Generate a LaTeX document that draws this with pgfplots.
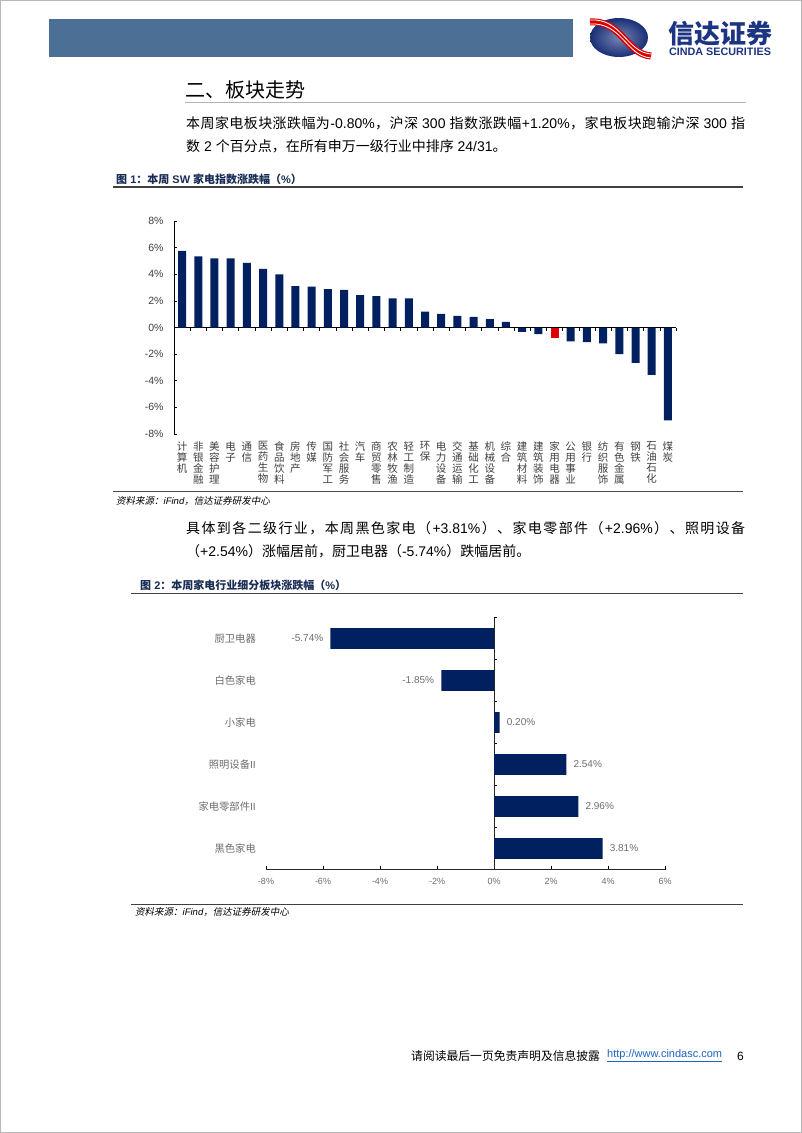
\documentclass[border=0pt]{standalone}
\usepackage{fontspec}
\setmainfont{Liberation Sans}
\newfontfamily\cjkfamily[AutoFakeSlant=0.2]{Noto Sans CJK SC}
\newfontfamily\monofont{Liberation Mono}
\usepackage{pgfplots}
\pgfplotsset{compat=1.18}
\definecolor{navy}{RGB}{0,32,96}
\definecolor{hdr}{RGB}{76,111,150}
\definecolor{ttl}{RGB}{25,45,85}
\definecolor{logoblue}{RGB}{28,52,130}
\definecolor{barred}{RGB}{225,0,0}
\definecolor{lbl}{RGB}{64,64,64}
\definecolor{lbl2}{RGB}{110,110,110}
\definecolor{urlblue}{RGB}{30,100,190}
% automatic switch between Latin (Liberation Sans) and CJK (Noto Sans CJK SC)
\newXeTeXintercharclass\cjkclass
\newcount\cjkc
\def\setcjkrange#1#2{\cjkc=#1\relax
  \loop\XeTeXcharclass\cjkc=\cjkclass
  \ifnum\cjkc<#2\advance\cjkc by 1\repeat}
\setcjkrange{"3000}{"303F}
\setcjkrange{"4E00}{"9FFF}
\setcjkrange{"FF00}{"FFEF}
\let\cjkglue\relax
\XeTeXinterchartoks 0 \cjkclass = {\cjkglue\cjkfamily}
\XeTeXinterchartoks 4095 \cjkclass = {\cjkfamily}
\XeTeXinterchartoks \cjkclass 0 = {\rmfamily\cjkglue}
\XeTeXinterchartoks \cjkclass 4095 = {\rmfamily}
\XeTeXinterchartoks \cjkclass \cjkclass = {\cjkglue}
\XeTeXinterchartokenstate=1
\newcommand\jline[2]{\hbox to #1{\def\cjkglue{\hskip 0pt plus 3pt\relax}#2}}
\begin{document}
\begin{tikzpicture}
\path[use as bounding box] (0pt,0pt) rectangle (802pt,-1133pt);
\fill[white] (0pt,0pt) rectangle (802pt,-1133pt);
\draw[gray!55, line width=1pt] (0.5pt,-0.5pt) rectangle (801.5pt,-1132.5pt);
% header
\fill[hdr] (49pt,-19pt) rectangle (573pt,-57pt);
\shade[inner color=logoblue!60, outer color=logoblue!90!black] (619pt,-37.5pt) ellipse [x radius=29pt, y radius=19.5pt];
\draw[red!85!black, line width=7pt] (590pt,-22pt) .. controls (622pt,-20pt) and (626pt,-54pt) .. (651pt,-56pt);
\draw[white, line width=0.8pt] (590pt,-20pt) .. controls (622pt,-18pt) and (626pt,-52pt) .. (651pt,-54pt);
\draw[white, line width=0.8pt] (590pt,-24pt) .. controls (622pt,-22pt) and (626pt,-56pt) .. (651pt,-58pt);
\node[text=logoblue, font=\bfseries\fontsize{26}{27}\selectfont, inner sep=0pt] at (720pt,-34pt) {信达证券};
\node[text=logoblue, font=\bfseries\fontsize{10.8}{12}\selectfont, inner sep=0pt] at (720pt,-52pt) {CINDA SECURITIES};
% section heading
\node[anchor=west, inner sep=0pt, font=\fontsize{20}{22}\selectfont] at (185pt,-90pt) {二、板块走势};
\draw[gray!60, line width=0.8pt] (185pt,-102pt) -- (746pt,-102pt);
% paragraph 1
\node[anchor=west, inner sep=0pt, font=\fontsize{14}{16}\selectfont] at (186pt,-123.5pt) {\jline{559pt}{本周家电板块涨跌幅为-0.80\%，沪深 300 指数涨跌幅+1.20\%，家电板块跑输沪深 300 指}};
\node[anchor=west, inner sep=0pt, font=\fontsize{14}{16}\selectfont] at (186pt,-146pt) {数 2 个百分点，在所有申万一级行业中排序 24/31。};
% figure 1 title
\node[anchor=west, inner sep=0pt, text=ttl, font=\bfseries\fontsize{11}{12}\selectfont] at (116pt,-179pt) {图 1：本周 SW 家电指数涨跌幅（\%）};
\draw[black!75, line width=1.5pt] (113pt,-187pt) -- (743pt,-187pt);
% figure 1 chart
\begin{axis}[
  at={(174pt,-434pt)}, anchor=south west,
  width=502pt, height=213pt, scale only axis,
  xmin=-0.5, xmax=30.5, ymin=-8, ymax=8,
  axis x line=middle, axis y line=left,
  axis line style={-, black, line width=0.8pt},
  hide obscured x ticks=false, hide obscured y ticks=false,
  ytick={-8,-6,...,8},
  yticklabel={\pgfmathprintnumber[assume math mode=true]{\tick}\%},
  yticklabel style={font=\fontsize{10.5}{12}\selectfont, text=lbl, xshift=-7pt},
  xtick={0,...,30},
  xticklabels={{计\\算\\机},{非\\银\\金\\融},{美\\容\\护\\理},{电\\子},{通\\信},{医\\药\\生\\物},{食\\品\\饮\\料},{房\\地\\产},{传\\媒},{国\\防\\军\\工},{社\\会\\服\\务},{汽\\车},{商\\贸\\零\\售},{农\\林\\牧\\渔},{轻\\工\\制\\造},{环\\保},{电\\力\\设\\备},{交\\通\\运\\输},{基\\础\\化\\工},{机\\械\\设\\备},{综\\合},{建\\筑\\材\\料},{建\\筑\\装\\饰},{家\\用\\电\\器},{公\\用\\事\\业},{银\\行},{纺\\织\\服\\饰},{有\\色\\金\\属},{钢\\铁},{石\\油\\石\\化},{煤\\炭}},
  xticklabel style={align=center, anchor=north, inner sep=0pt, yshift=-111pt, text=lbl, font=\fontsize{10.5}{11}\selectfont},
  major x tick style={draw=none},
  minor xtick={-0.5,0.5,...,30.5},
  tick align=inside, major tick length=3pt, minor tick length=3pt,
  tick style={black, line width=0.6pt},
  ybar, bar width=8pt,
]
\addplot[fill=navy, draw=none, bar shift=0pt] coordinates {
(0,5.75) (1,5.35) (2,5.20) (3,5.20) (4,4.85) (5,4.40) (6,4.00) (7,3.10) (8,3.08) (9,2.88) (10,2.83) (11,2.43) (12,2.35) (13,2.18) (14,2.18) (15,1.20) (16,1.03) (17,0.88) (18,0.80) (19,0.63) (20,0.43) (21,-0.33) (22,-0.50) (24,-1.05) (25,-1.10) (26,-1.20) (27,-2.00) (28,-2.65) (29,-3.55) (30,-6.98)};
\addplot[fill=barred, draw=none, bar shift=0pt] coordinates {(23,-0.80)};
\end{axis}
\draw[black!70, line width=0.8pt] (113pt,-491.5pt) -- (743pt,-491.5pt);
\node[anchor=west, inner sep=0pt, font=\itshape\fontsize{9.5}{11}\selectfont] at (116pt,-501pt) {资料来源：iFind，信达证券研发中心};
% paragraph 2
\node[anchor=west, inner sep=0pt, font=\fontsize{14}{16}\selectfont] at (186pt,-528pt) {\jline{559pt}{具体到各二级行业，本周黑色家电（+3.81\%）、家电零部件（+2.96\%）、照明设备}};
\node[anchor=west, inner sep=0pt, font=\fontsize{14}{16}\selectfont] at (186pt,-551pt) {（+2.54\%）涨幅居前，厨卫电器（-5.74\%）跌幅居前。};
% figure 2 title
\node[anchor=west, inner sep=0pt, text=ttl, font=\bfseries\fontsize{11}{12}\selectfont] at (140pt,-585pt) {图 2：本周家电行业细分板块涨跌幅（\%）};
\draw[black!75, line width=1.5pt] (131pt,-593.5pt) -- (743pt,-593.5pt);
% figure 2 chart
\begin{axis}[
  at={(266pt,-869.5pt)}, anchor=south west,
  width=399pt, height=252pt, scale only axis,
  xmin=-8, xmax=6, ymin=-0.5, ymax=5.5,
  axis x line=bottom, axis y line=middle,
  axis line style={-, black!85, line width=0.8pt},
  hide obscured x ticks=false, hide obscured y ticks=false,
  xtick={-8,-6,...,6},
  xticklabel={\pgfmathprintnumber[assume math mode=true]{\tick}\%},
  xticklabel style={font=\fontsize{9}{10}\selectfont, text=lbl2, yshift=-5pt},
  ytick={0,...,5},
  yticklabels={黑色家电,家电零部件II,照明设备II,小家电,白色家电,厨卫电器},
  yticklabel style={anchor=east, inner sep=0pt, xshift=-234pt, font=\fontsize{10.3}{12}\selectfont, text=lbl2},
  major y tick style={draw=none},
  minor ytick={-0.5,0.5,...,5.5},
  minor y tick style={xshift=3pt},
  tick align=inside, major tick length=4pt, minor tick length=3pt,
  tick style={black, line width=0.6pt},
  xbar, bar width=20.7pt,
  point meta=x,
  nodes near coords={\pgfmathprintnumber[fixed,fixed zerofill,precision=2,assume math mode=true]{\pgfplotspointmeta}\%},
  nodes near coords align={horizontal},
  nodes near coords style={font=\fontsize{10}{11}\selectfont, text=lbl2, inner xsep=7pt, inner ysep=0pt},
]
\addplot[fill=navy, draw=none] coordinates {(3.81,0) (2.96,1) (2.54,2) (0.20,3) (-1.85,4) (-5.74,5)};
\end{axis}
\draw[black!75, line width=1pt] (131pt,-904pt) -- (743pt,-904pt);
\node[anchor=west, inner sep=0pt, font=\itshape\fontsize{9.5}{11}\selectfont] at (135pt,-912pt) {资料来源：iFind，信达证券研发中心};
% footer
\node[anchor=west, inner sep=0pt, font=\fontsize{11.8}{13}\selectfont] at (411pt,-1056pt) {请阅读最后一页免责声明及信息披露};
\node[anchor=west, inner sep=0pt, font=\fontsize{11}{13}\selectfont, text=urlblue] at (607pt,-1056pt) {\underline{http://www.cindasc.com}};
\node[anchor=west, inner sep=0pt, font=\fontsize{12}{13}\selectfont] at (737pt,-1056pt) {6};
\end{tikzpicture}
\end{document}
